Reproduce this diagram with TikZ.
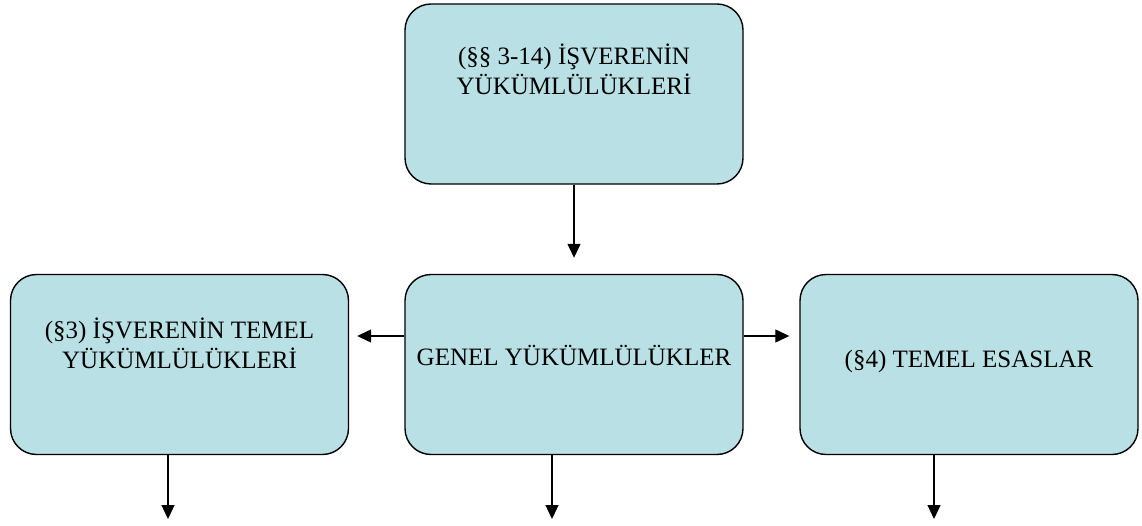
\documentclass[tikz,border=0pt]{standalone}
\usepackage{fontspec}
\setmainfont{Liberation Serif}
\usetikzlibrary{arrows.meta}
\definecolor{boxfill}{RGB}{185,224,228}
\tikzset{
  panel/.style={draw=black, line width=1.4pt, fill=boxfill, rounded corners=26pt,
                minimum width=338pt, minimum height=180pt, inner sep=0pt},
  label/.style={font=\fontsize{25}{30}\selectfont, align=center, anchor=base, inner sep=0pt},
  link/.style={line width=1.3pt, -{Triangle[length=14pt,width=13pt]}}
}
\begin{document}
\begin{tikzpicture}[x=1pt,y=-1pt]
  \useasboundingbox (0,0) rectangle (1142,526);

  % boxes
  \node[panel] (top)   at (574,94)    {};
  \node[panel] (left)  at (179.5,364.5) {};
  \node[panel] (mid)   at (574,364.5) {};
  \node[panel] (right) at (969,364.5) {};

  % box texts (base anchor sits on the last line)
  \node[label] (toptext)   at (574,95)   {(§§ 3-14) İŞVERENİN\\YÜKÜMLÜLÜKLERİ};
  \node[label] (lefttext)  at (179.5,368) {(§3) İŞVERENİN TEMEL\\YÜKÜMLÜLÜKLERİ};
  \node[label] (midtext)   at (574,365)  {GENEL YÜKÜMLÜLÜKLER};
  \node[label] (righttext) at (969,367)  {(§4) TEMEL ESASLAR};

  % connectors
  \coordinate (lvl) at (0,336);
  \draw[link, shorten >=16pt] (top.south) -- (mid.north);
  \draw[link, shorten >=8pt]  (mid.west |- lvl) -- (left.east |- lvl);
  \draw[link, shorten >=10pt] (mid.east |- lvl) -- (right.west |- lvl);

  % outgoing arrows below the lower row
  \coordinate (endL) at (168,519);
  \coordinate (endM) at (552,519);
  \coordinate (endR) at (934,519);
  \draw[link] (left.south -| endL) -- (endL);
  \draw[link] (mid.south -| endM) -- (endM);
  \draw[link] (right.south -| endR) -- (endR);
\end{tikzpicture}
\end{document}
